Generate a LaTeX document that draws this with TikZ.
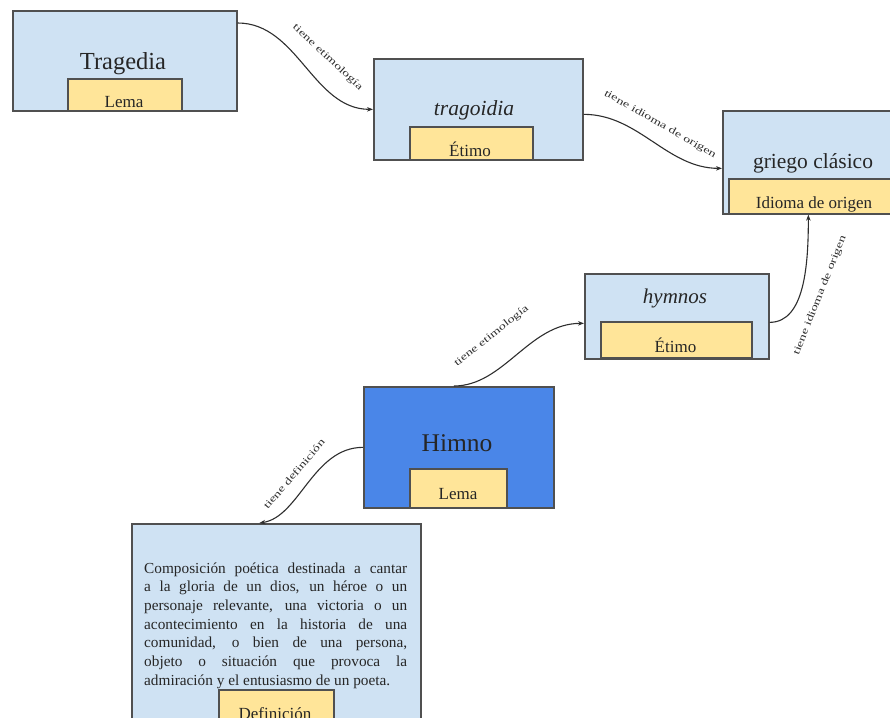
\documentclass[tikz,border=0pt]{standalone}
\usepackage{fontspec}
\setmainfont{Liberation Serif}
\usetikzlibrary{arrows.meta}
\definecolor{lblue}{HTML}{CFE2F3}
\definecolor{lyel}{HTML}{FFE599}
\definecolor{dblue}{HTML}{4A86E8}
\definecolor{bord}{HTML}{505050}
\definecolor{txt}{HTML}{262626}
\definecolor{conn}{HTML}{2E2E2E}
\tikzset{
  box/.style={draw=bord, line width=1.7pt, fill=lblue, anchor=north west, inner sep=0pt},
  tag/.style={draw=bord, line width=1.7pt, fill=lyel, anchor=north west, inner sep=0pt},
  big/.style={anchor=base, inner sep=0pt, text=txt, font=\fontsize{22}{26}\selectfont},
  small/.style={anchor=base, inner sep=0pt, text=txt, font=\fontsize{17}{20}\selectfont},
  lbl/.style={inner sep=0pt, text=conn},
  conn/.style={draw=conn, line width=1.1pt, -{Stealth[length=6pt,width=4.5pt]}}
}
\newcommand{\lbltext}[1]{\scalebox{1.42}[1]{\fontsize{10}{12}\selectfont #1}}
\newcommand{\jline}[1]{\hbox to 263pt{#1}}
\begin{document}
\begin{tikzpicture}[x=1pt,y=-1pt]
\useasboundingbox (0,0) rectangle (890,717);
\clip (0,0) rectangle (890,717);
% boxes
\node[box, minimum width=224pt, minimum height=100pt] (trag) at (12,10) {};
\node[tag, minimum width=114pt, minimum height=32pt] (tragL) at (67,78) {};
\node[box, minimum width=209pt, minimum height=101pt] (trago) at (373,58) {};
\node[tag, minimum width=123pt, minimum height=33pt] (tragoE) at (409,126) {};
\node[box, minimum width=180pt, minimum height=103pt] (griego) at (722,110) {};
\node[tag, minimum width=175pt, minimum height=35pt] (griegoI) at (728,178) {};
\node[box, minimum width=184pt, minimum height=85pt] (hymnos) at (584,273) {};
\node[tag, minimum width=151pt, minimum height=36pt] (hymnosE) at (600,321) {};
\node[box, fill=dblue, minimum width=190pt, minimum height=121pt] (himno) at (363,386) {};
\node[tag, minimum width=97pt, minimum height=39pt] (himnoL) at (409,468) {};
\node[box, minimum width=289pt, minimum height=220pt] (def) at (131,523) {};
\node[tag, minimum width=115pt, minimum height=50pt] (defL) at (218,689) {};
% texts
\node[big, font=\fontsize{24.5}{28}\selectfont] (t1) at (123,69) {Tragedia};
\node[small] (t2) at (124,107) {Lema};
\node[big, font=\fontsize{21.5}{26}\selectfont\itshape] (t3) at (474,115) {tragoidia};
\node[small] (t4) at (470,156) {Étimo};
\node[big, font=\fontsize{21.5}{26}\selectfont] (t5) at (813,168) {griego clásico};
\node[small] (t6) at (814,208) {Idioma de origen};
\node[big, font=\fontsize{21}{26}\selectfont\itshape] (t7) at (675,303) {hymnos};
\node[small] (t8) at (675.5,352) {Étimo};
\node[big, font=\fontsize{25.5}{30}\selectfont] (t9) at (457,451) {Himno};
\node[small] (t10) at (458,499) {Lema};
\node[small] (t11) at (275,719) {Definición};
\node[anchor=base west, inner sep=0pt, text=txt] (para) at (144,573)
  {\parbox[t]{263pt}{\fontsize{15.3}{18.7}\selectfont
  \jline{Composición poética destinada a cantar}
  \jline{a la gloria de un dios, un héroe o un}
  \jline{personaje relevante, una victoria o un}
  \jline{acontecimiento en la historia de una}
  \jline{comunidad, o bien de una persona,}
  \jline{objeto o situación que provoca la}
  \hbox{admiración y el entusiasmo de un poeta.}}};
% connectors
\draw[conn] ([yshift=-13pt]trag.north east) .. controls +(60,0) and +(-60,0) .. (trago.west);
\draw[conn] ([yshift=-5pt]trago.east) .. controls +(55,0) and +(-55,0) .. ([yshift=-6pt]griego.west);
\draw[conn] ([yshift=-6pt]hymnos.east) .. controls +(35,0) and +(0,50) .. ([xshift=-8pt]griegoI.south);
\draw[conn] ([xshift=-5pt]himno.north) .. controls +(50,0) and +(-55,0) .. ([yshift=-7pt]hymnos.west);
\draw[conn] (himno.west) .. controls +(-50,0) and +(40,-6) .. ([xshift=-17pt]def.north);
% labels
\node[lbl, rotate=-43] (l1) at (327.5,57.5) {\lbltext{tiene etimología}};
\node[lbl, rotate=-29.7] (l2) at (660,124.5) {\lbltext{tiene idioma de origen}};
\node[lbl, rotate=68.2] (l3) at (820,295.5) {\lbltext{tiene idioma de origen}};
\node[lbl, rotate=38.5] (l4) at (491.5,336) {\lbltext{tiene etimología}};
\node[lbl, rotate=49.5] (l5) at (294,474) {\lbltext{tiene definición}};
\end{tikzpicture}
\end{document}
